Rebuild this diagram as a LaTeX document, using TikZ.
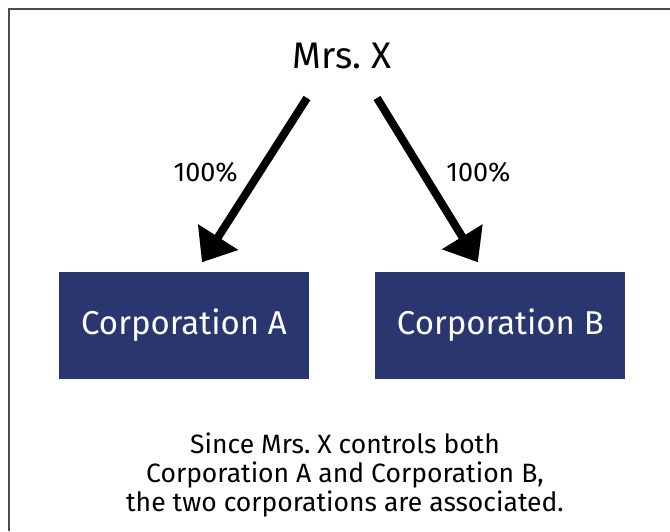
\documentclass[tikz,border=0pt]{standalone}
\usepackage{fontspec}
\setmainfont{Fira Sans}
\usepackage{tikz}
\usetikzlibrary{positioning,arrows.meta}
\definecolor{navy}{RGB}{41,54,112}
\frenchspacing

\begin{document}
\begin{tikzpicture}[x=1pt,y=1pt,
  corp/.style={fill=navy,text=white,minimum width=250pt,minimum height=107pt,inner sep=0pt,font=\fontsize{33}{36}\selectfont},
  owns/.style={-{Triangle[length=30pt,width=46pt]},line width=8pt},
  pct/.style={inner sep=0pt,font=\fontsize{27}{32}\selectfont}]
\useasboundingbox (0,0) rectangle (670,531);
%\draw[help lines,step=50pt] (0,0) grid (670,531);
\draw[line width=1.5pt,black!70] (9,0) -- (9,522) -- (670,522);
\node[font=\fontsize{37}{40}\selectfont] (mrsx) at (342,475) {Mrs. X};
\node[corp] (corpA) at (184,205.5) {Corporation A};
\node[corp,right=66pt of corpA] (corpB) {Corporation B};
\draw[owns] ([shift={(-35,-42)}]mrsx.center) -- node[pct,pos=0.45,left=18pt] {100\%} ([shift={(18,9.5)}]corpA.north);
\draw[owns] ([shift={(35,-42)}]mrsx.center) -- node[pct,pos=0.45,right=20pt] {100\%} ([shift={(-22.5,9.5)}]corpB.north);
\node[align=center,font=\fontsize{26.5}{29}\selectfont] (note) at (345,56) {Since Mrs. X controls both\\Corporation A and Corporation B,\\the two corporations are associated.};
\end{tikzpicture}
\end{document}
